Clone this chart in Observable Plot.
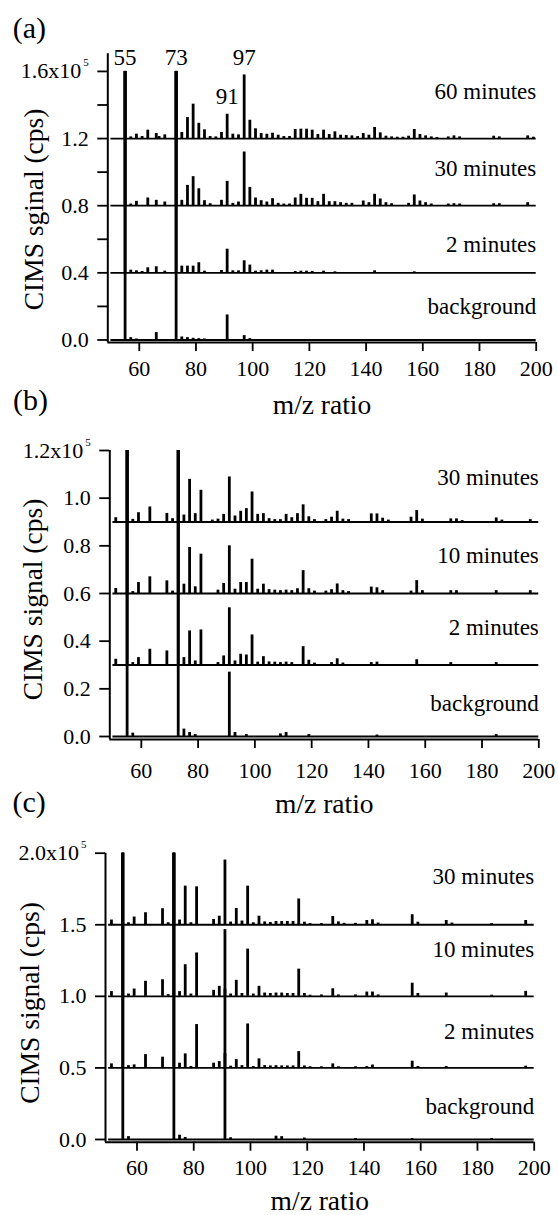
<!DOCTYPE html>
<html><head><meta charset="utf-8">
<script src="https://cdn.jsdelivr.net/npm/d3@7"></script>
<script src="https://cdn.jsdelivr.net/npm/@observablehq/plot@0.6"></script>
<style>
body{margin:0;background:#fff;}
#wrap{position:relative;width:558px;height:1215px;overflow:hidden;background:#fff;}
#wrap svg{position:absolute;left:0;overflow:visible;background:transparent;}
</style></head><body><div id="wrap"></div>
<script>
const FONT = "'Liberation Serif','Times New Roman',Times,serif";

// ---------- data (signal in units of 1e5 cps, peaks as [m/z, height above trace offset]) ----------
const mzRange = [50, 200];
const xTicks = [60, 80, 100, 120, 140, 160, 180, 200];

// panel (a)
const aNames = ["background", "2 minutes", "30 minutes", "60 minutes"];
const aOffsets = [0, 0.4, 0.8, 1.2];
const aYTicks = [0, 0.2, 0.4, 0.6, 0.8, 1.0, 1.2, 1.4, 1.6];
const aYLabeled = [0, 0.4, 0.8, 1.2, 1.6];
const aBg = [[55,1.6],[57,0.014],[59,0.006],[66,0.044],[73,1.6],[75,0.018],[77,0.014],[79,0.01],[81,0.008],[83,0.006],[91,0.149],[97,0.026],[99,0.008]];
const a2 = [[55,1.2],[57,0.016],[59,0.012],[61,0.008],[63,0.03],[66,0.036],[69,0.01],[73,1.2],[75,0.04],[77,0.04],[79,0.04],[81,0.06],[83,0.01],[89,0.014],[91,0.141],[93,0.012],[95,0.012],[97,0.072],[99,0.046],[101,0.01],[103,0.012],[105,0.016],[107,0.016],[115,0.008],[117,0.01],[119,0.01],[121,0.008],[125,0.01],[129,0.006],[143,0.012],[157,0.006]];
const a30 = [[55,0.8],[57,0.01],[59,0.026],[63,0.046],[66,0.032],[69,0.022],[73,0.8],[75,0.032],[77,0.121],[79,0.173],[81,0.101],[83,0.03],[85,0.012],[89,0.032],[91,0.145],[93,0.014],[95,0.022],[97,0.32],[99,0.109],[101,0.046],[103,0.03],[105,0.022],[107,0.042],[109,0.014],[111,0.01],[113,0.01],[115,0.046],[117,0.068],[119,0.044],[121,0.044],[123,0.024],[125,0.068],[127,0.024],[129,0.024],[131,0.018],[133,0.014],[135,0.014],[139,0.028],[141,0.018],[143,0.068],[145,0.04],[147,0.018],[149,0.012],[155,0.014],[157,0.064],[159,0.028],[161,0.018],[163,0.01],[169,0.01],[171,0.012],[173,0.01],[185,0.012],[187,0.012],[197,0.018]];
const a60 = [[55,0.4],[57,0.01],[59,0.026],[61,0.012],[63,0.05],[66,0.03],[67,0.012],[69,0.022],[73,0.4],[75,0.036],[77,0.125],[79,0.205],[81,0.091],[83,0.052],[85,0.012],[87,0.01],[89,0.036],[91,0.145],[93,0.026],[95,0.022],[97,0.379],[99,0.109],[101,0.058],[103,0.03],[105,0.026],[107,0.032],[109,0.02],[111,0.012],[113,0.012],[115,0.054],[117,0.056],[119,0.056],[121,0.05],[123,0.024],[125,0.05],[127,0.024],[129,0.04],[131,0.02],[133,0.018],[135,0.016],[137,0.012],[139,0.03],[141,0.02],[143,0.066],[145,0.034],[147,0.014],[149,0.01],[151,0.008],[153,0.008],[155,0.014],[157,0.054],[159,0.024],[161,0.016],[163,0.01],[165,0.006],[169,0.01],[171,0.016],[173,0.01],[185,0.014],[187,0.01],[197,0.016],[199,0.008]];
const aPeakLabels = [55, 73, 97, 91];

// panel (b)
const bNames = ["background", "2 minutes", "10 minutes", "30 minutes"];
const bOffsets = [0, 0.3, 0.6, 0.9];
const bYTicks = [0, 0.2, 0.4, 0.6, 0.8, 1.0, 1.2];
const bYLabeled = [0, 0.2, 0.4, 0.6, 0.8, 1.0, 1.2];
const bBg = [[55,1.2],[57,0.014],[73,1.2],[75,0.031],[77,0.017],[79,0.008],[91,0.27],[93,0.017],[97,0.008],[109,0.011],[111,0.017],[119,0.008],[143,0.006],[185,0.008]];
const b2 = [[51,0.024],[55,0.9],[57,0.01],[59,0.031],[63,0.066],[69,0.059],[73,0.9],[75,0.031],[77,0.143],[79,0.017],[81,0.147],[87,0.01],[89,0.038],[91,0.24],[93,0.017],[95,0.045],[97,0.042],[99,0.126],[101,0.012],[103,0.035],[105,0.013],[107,0.012],[109,0.01],[111,0.012],[113,0.01],[117,0.077],[119,0.02],[121,0.008],[127,0.01],[129,0.026],[131,0.008],[141,0.01],[143,0.012],[157,0.022],[169,0.01],[185,0.01]];
const b10 = [[51,0.021],[55,0.6],[57,0.008],[59,0.046],[63,0.07],[69,0.053],[71,0.01],[73,0.6],[75,0.039],[77,0.193],[79,0.028],[81,0.165],[87,0.014],[89,0.042],[91,0.2],[93,0.018],[95,0.046],[97,0.046],[99,0.144],[101,0.018],[103,0.039],[105,0.016],[107,0.014],[109,0.012],[111,0.014],[113,0.012],[115,0.02],[117,0.096],[119,0.02],[121,0.01],[125,0.01],[127,0.016],[129,0.04],[131,0.012],[133,0.008],[141,0.027],[143,0.024],[145,0.012],[155,0.01],[157,0.054],[159,0.012],[169,0.012],[171,0.012],[185,0.012],[197,0.012]];
const b30 = [[51,0.018],[55,0.3],[57,0.011],[59,0.039],[63,0.063],[69,0.036],[71,0.014],[73,0.3],[75,0.029],[77,0.179],[79,0.035],[81,0.133],[85,0.008],[87,0.012],[89,0.032],[91,0.189],[93,0.025],[95,0.045],[97,0.056],[99,0.126],[101,0.032],[103,0.035],[105,0.014],[107,0.01],[109,0.01],[111,0.032],[113,0.018],[115,0.035],[117,0.072],[119,0.022],[121,0.01],[125,0.01],[127,0.02],[129,0.045],[131,0.012],[133,0.01],[141,0.034],[143,0.034],[145,0.016],[147,0.008],[155,0.02],[157,0.048],[159,0.012],[169,0.013],[171,0.013],[173,0.006],[185,0.017],[187,0.008],[197,0.01]];

// panel (c)
const cNames = ["background", "2 minutes", "10 minutes", "30 minutes"];
const cOffsets = [0, 0.5, 1.0, 1.5];
const cYTicks = [0, 0.5, 1.0, 1.5, 2.0];
const cYLabeled = [0, 0.5, 1.0, 1.5, 2.0];
const cBg = [[55,2.0],[57,0.02],[73,2.0],[75,0.03],[77,0.014],[91,0.6],[93,0.012],[109,0.023],[111,0.02],[119,0.01],[137,0.006],[157,0.006],[185,0.006]];
const c2 = [[51,0.028],[55,1.5],[57,0.016],[59,0.021],[63,0.093],[69,0.075],[73,1.5],[75,0.033],[77,0.098],[79,0.01],[81,0.303],[87,0.033],[89,0.044],[91,0.55],[93,0.012],[95,0.058],[97,0.016],[99,0.307],[101,0.01],[103,0.063],[105,0.016],[107,0.014],[109,0.016],[111,0.014],[113,0.014],[115,0.014],[117,0.114],[119,0.014],[121,0.008],[125,0.008],[129,0.028],[131,0.008],[137,0.008],[141,0.01],[143,0.02],[157,0.047],[159,0.01],[169,0.01],[197,0.012]];
const c10 = [[51,0.033],[55,1.0],[57,0.016],[59,0.051],[63,0.105],[69,0.116],[71,0.012],[73,1.0],[75,0.033],[77,0.221],[79,0.016],[81,0.303],[87,0.042],[89,0.07],[91,0.466],[93,0.016],[95,0.112],[97,0.02],[99,0.33],[101,0.016],[103,0.07],[105,0.023],[107,0.02],[109,0.023],[111,0.023],[113,0.02],[115,0.02],[117,0.19],[119,0.02],[121,0.008],[125,0.01],[129,0.053],[131,0.01],[137,0.01],[141,0.03],[143,0.03],[145,0.01],[157,0.092],[159,0.02],[169,0.023],[185,0.008],[197,0.035]];
const c30 = [[51,0.033],[55,0.5],[57,0.014],[59,0.054],[63,0.084],[69,0.112],[71,0.014],[73,0.5],[75,0.033],[77,0.27],[79,0.014],[81,0.265],[87,0.037],[89,0.06],[91,0.452],[93,0.019],[95,0.114],[97,0.026],[99,0.27],[101,0.014],[103,0.06],[105,0.02],[107,0.016],[109,0.023],[111,0.023],[113,0.023],[115,0.023],[117,0.18],[119,0.018],[121,0.008],[125,0.008],[129,0.058],[131,0.02],[133,0.01],[137,0.01],[141,0.03],[143,0.035],[145,0.012],[157,0.07],[159,0.018],[169,0.03],[171,0.012],[185,0.008],[197,0.03]];

// ---------- layout (pixels) ----------
const panels = [
  {letter:"(a)", ytitle:"CIMS sginal (cps)", names:aNames, offsets:aOffsets, spectra:[aBg,a2,a30,a60],
   yTicks:aYTicks, yLabeled:aYLabeled, yDomain:[-0.015,1.705], peakLabels:aPeakLabels,
   top:0, height:430, mt:53.3, mb:88, ml:107.3, mr:22.3,
   labelDy:[-25.5,-21,-30,-40], peakDy:{55:-6,73:-6,97:-9.5,91:-10.5},
   letterD:[-95,-16.3], ytD:[-74,11.3], xtDy:71, xPad:8.4},
  {letter:"(b)", ytitle:"CIMS signal (cps)", names:bNames, offsets:bOffsets, spectra:[bBg,b2,b10,b30],
   yTicks:bYTicks, yLabeled:bYLabeled, yDomain:[-0.0126,1.2], peakLabels:[],
   top:380, height:450, mt:70, mb:91, ml:109.3, mr:19.7,
   labelDy:[-25,-29.5,-30,-36.5], peakDy:{},
   letterD:[-96.9,-41], ytD:[-77,4.5], xtDy:73, xPad:14},
  {letter:"(c)", ytitle:"CIMS signal (cps)", names:cNames, offsets:cOffsets, spectra:[cBg,c2,c10,c30],
   yTicks:cYTicks, yLabeled:cYLabeled, yDomain:[-0.019,2.0], peakLabels:[],
   top:780, height:435, mt:72.7, mb:73.3, ml:105, mr:24.3,
   labelDy:[-25,-29,-39,-41], peakDy:{},
   letterD:[-93,-41.7], ytD:[-75,5.3], xtDy:68, xPad:8.4}
];

const wrap = document.getElementById("wrap");
for (const p of panels) {
  const xDomain = [48.9, mzRange[1]];
  const series = p.names.map((name, i) => ({name, offset: p.offsets[i], peaks: p.spectra[i]}));
  const sticks = series.flatMap(s => s.peaks.map(([mz, h]) => ({mz, y1: s.offset, y2: s.offset + h})));
  const bases = series.map(s => ({offset: s.offset, x1: mzRange[0], x2: mzRange[1]}));
  const topTick = p.yTicks[p.yTicks.length - 1];
  const fmt = d => (p.yLabeled.some(v => Math.abs(v - d) < 1e-9) && Math.abs(d - topTick) > 1e-9) ? d.toFixed(1) : "";
  const last = series[series.length - 1];
  const marks = [
    // axis lines
    Plot.ruleY([p.yDomain[0]], {x1: xDomain[0], x2: xDomain[1], strokeWidth: 2}),
    Plot.ruleX([xDomain[0]], {y1: p.yDomain[0], y2: p.yDomain[1], strokeWidth: 2}),
    Plot.axisX({ticks: xTicks, tickSize: 9, tickPadding: p.xPad, tickFormat: d => String(d), label: null, strokeWidth: 1.8, fontSize: 22}),
    Plot.axisY({ticks: p.yTicks, tickSize: 10, tickPadding: 9, tickFormat: fmt, label: null, strokeWidth: 1.8, fontSize: 22}),
    // top tick label with exponent
    Plot.text([topTick], {y: d => d, frameAnchor: "left", text: d => d.toFixed(1) + "x10", textAnchor: "end", lineAnchor: "middle", dx: -26.5, fontSize: 22}),
    Plot.text([topTick], {y: d => d, frameAnchor: "left", text: () => "5", textAnchor: "end", lineAnchor: "middle", dx: -19, dy: -8.5, fontSize: 11}),
    // baselines and peaks
    Plot.ruleY(bases, {y: "offset", x1: "x1", x2: "x2", strokeWidth: 1.8}),
    Plot.ruleX(sticks, {x: "mz", y1: "y1", y2: "y2", strokeWidth: 2.8}),
    // titles
    Plot.text([p.ytitle], {frameAnchor: "left", rotate: -90, textAnchor: "middle", lineAnchor: "middle", dx: p.ytD[0], dy: p.ytD[1], fontSize: 27.5}),
    Plot.text(["m/z ratio"], {frameAnchor: "bottom", textAnchor: "middle", lineAnchor: "bottom", dy: p.xtDy, fontSize: 27.5}),
    Plot.text([p.letter], {frameAnchor: "top-left", textAnchor: "start", lineAnchor: "bottom", dx: p.letterD[0], dy: p.letterD[1], fontSize: 30})
  ];
  series.forEach((s, i) => {
    marks.push(Plot.text([s], {y: "offset", frameAnchor: "right", text: "name", textAnchor: "end", lineAnchor: "bottom", dy: p.labelDy[i], fontSize: 23}));
  });
  for (const m of p.peakLabels) {
    const pk = last.peaks.find(d => d[0] === m);
    marks.push(Plot.text([{mz: m, y: last.offset + pk[1]}], {x: "mz", y: "y", text: d => String(d.mz), textAnchor: "middle", lineAnchor: "bottom", dy: p.peakDy[m], fontSize: 23}));
  }
  const svg = Plot.plot({
    width: 558, height: p.height,
    marginTop: p.mt, marginBottom: p.mb, marginLeft: p.ml, marginRight: p.mr,
    x: {domain: xDomain}, y: {domain: p.yDomain},
    style: {fontFamily: FONT, fontSize: "22px", background: "transparent", overflow: "visible", color: "#000"},
    marks
  });
  svg.style.top = p.top + "px";
  wrap.appendChild(svg);
}
</script></body></html>
